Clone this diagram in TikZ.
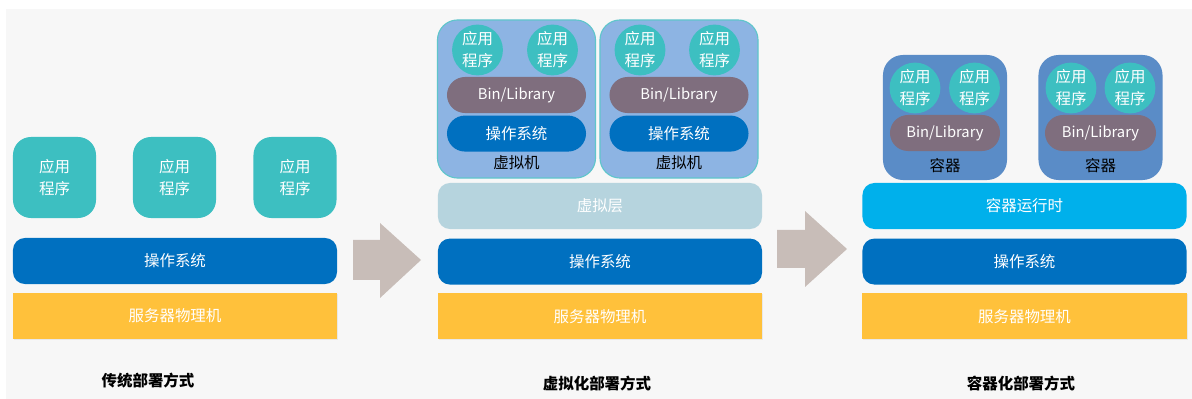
\documentclass[tikz,border=0pt]{standalone}
\usepackage{fontspec}
\setmainfont{Noto Sans CJK SC}
\usepackage{tikz}
\usetikzlibrary{positioning, shadows}
\usepackage{xcolor}
\definecolor{pagebg}{HTML}{F7F7F7}
\definecolor{appteal}{HTML}{3DBFC1}
\definecolor{osblue}{HTML}{0070C0}
\definecolor{serveryellow}{HTML}{FFC13B}
\definecolor{vmfill}{HTML}{8DB4E3}
\definecolor{vmline}{HTML}{5FC6CB}
\definecolor{virtlayer}{HTML}{B6D4DE}
\definecolor{binpurple}{HTML}{7F6E7E}
\definecolor{ctfill}{HTML}{5A8CC7}
\definecolor{runtime}{HTML}{00B0EB}
\definecolor{arrowgray}{HTML}{C8BDB8}

\begin{document}
\begin{tikzpicture}[x=0.025cm, y=-0.025cm,
  app/.style={rectangle, rounded corners=0.45cm, fill=appteal, text=white, minimum width=2.075cm, minimum height=2.025cm, align=center, font=\fontsize{11}{15.6}\selectfont},
  appcircle/.style={circle, fill=appteal, text=white, minimum size=1.27cm, inner sep=0pt, align=center, font=\fontsize{11}{15.6}\selectfont},
  layer/.style={rectangle, rounded corners=0.3cm, text=white, minimum width=8.1cm, minimum height=1.15cm, font=\fontsize{11}{13}\selectfont},
  osbar/.style={layer, fill=osblue},
  server/.style={layer, rounded corners=0pt, fill=serveryellow, drop shadow={shadow xshift=0.7pt, shadow yshift=-0.7pt, opacity=0.12}},
  vmbox/.style={rectangle, rounded corners=0.5cm, draw=vmline, line width=0.8pt, fill=vmfill, minimum width=3.95cm, minimum height=3.95cm},
  ctbox/.style={rectangle, rounded corners=0.5cm, fill=ctfill, minimum width=3.1cm, minimum height=3.125cm},
  pill/.style={rectangle, rounded corners=0.45cm, text=white, minimum height=0.9cm, minimum width=3.475cm, font=\fontsize{10.5}{12}\selectfont},
  binpill/.style={pill, fill=binpurple},
  ospill/.style={pill, fill=osblue, font=\fontsize{11}{13}\selectfont},
  tag/.style={text=black, inner sep=0pt, font=\fontsize{11}{13}\selectfont},
  caption/.style={text=black, inner sep=0pt, font=\bfseries\fontsize{11}{13}\selectfont},
  blockarrow/.style={fill=arrowgray}
]

\useasboundingbox (0,0) rectangle (1192,399);
\fill[pagebg] (6,9) rectangle (1192,399);

% --- Traditionelle Bereitstellung links ---
\node[app] (appA) at (54.5,177.5) {应用\\程序};
\node[app] (appB) at (174.5,177.5) {应用\\程序};
\node[app] (appC) at (295,177.5) {应用\\程序};
\node[osbar] (osA) at (175,261) {操作系统};
\node[server, below=0.2cm of osA] (srvA) {服务器物理机};
\node[caption] (capA) at (148,381) {传统部署方式};

% --- Virtualisierung Mitte ---
\node[vmbox] (vm1) at (516.5,99) {};
\node[vmbox] (vm2) at (679,99) {};
\node[appcircle] (vm1appA) at (477.5,50) {应用\\程序};
\node[appcircle] (vm1appB) at (552.5,50) {应用\\程序};
\node[appcircle] (vm2appA) at (640,50) {应用\\程序};
\node[appcircle] (vm2appB) at (714.5,50) {应用\\程序};
\node[binpill] (vm1bin) at (516.5,95) {Bin/Library};
\node[binpill] (vm2bin) at (679,95) {Bin/Library};
\node[ospill, below=0.05cm of vm1bin] (vm1os) {操作系统};
\node[ospill, below=0.05cm of vm2bin] (vm2os) {操作系统};
\node[tag] (vm1tag) at (516.5,163) {虚拟机};
\node[tag] (vm2tag) at (679,163) {虚拟机};

\node[layer, fill=virtlayer] (hyper) at (600,206) {虚拟层};
\node[osbar, below=0.225cm of hyper] (osB) {操作系统};
\node[server, below=0.2cm of osB] (srvB) {服务器物理机};
\node[caption] (capB) at (597,384) {虚拟化部署方式};

% --- Container rechts ---
\node[ctbox] (ct1) at (945,117.5) {};
\node[ctbox] (ct2) at (1100.5,117.5) {};
\node[appcircle] (ct1appA) at (915,88) {应用\\程序};
\node[appcircle] (ct1appB) at (974.5,88) {应用\\程序};
\node[appcircle] (ct2appA) at (1071,88) {应用\\程序};
\node[appcircle] (ct2appB) at (1130,88) {应用\\程序};
\node[binpill, minimum width=2.75cm] (ct1bin) at (945,133) {Bin/Library};
\node[binpill, minimum width=2.775cm] (ct2bin) at (1100.5,133) {Bin/Library};
\node[tag] (ct1tag) at (945,166) {容器};
\node[tag] (ct2tag) at (1100.5,166) {容器};

\node[layer, fill=runtime] (rtime) at (1024.5,206) {容器运行时};
\node[osbar, below=0.225cm of rtime] (osC) {操作系统};
\node[server, below=0.2cm of osC] (srvC) {服务器物理机};
\node[caption] (capC) at (1021,384) {容器化部署方式};

% Pfeile zwischen den Spalten
\coordinate (arrowA) at (353,260);
\coordinate (arrowB) at (777,249);
\fill[blockarrow] (arrowA) ++(0,-20) -- ++(27,0) -- ++(0,-17) -- ++(41,37) -- ++(-41,38) -- ++(0,-18) -- ++(-27,0) -- cycle;
\fill[blockarrow] (arrowB) ++(0,-19) -- ++(28,0) -- ++(0,-19) -- ++(42,38) -- ++(-42,38) -- ++(0,-19) -- ++(-28,0) -- cycle;
\end{tikzpicture}
\end{document}
